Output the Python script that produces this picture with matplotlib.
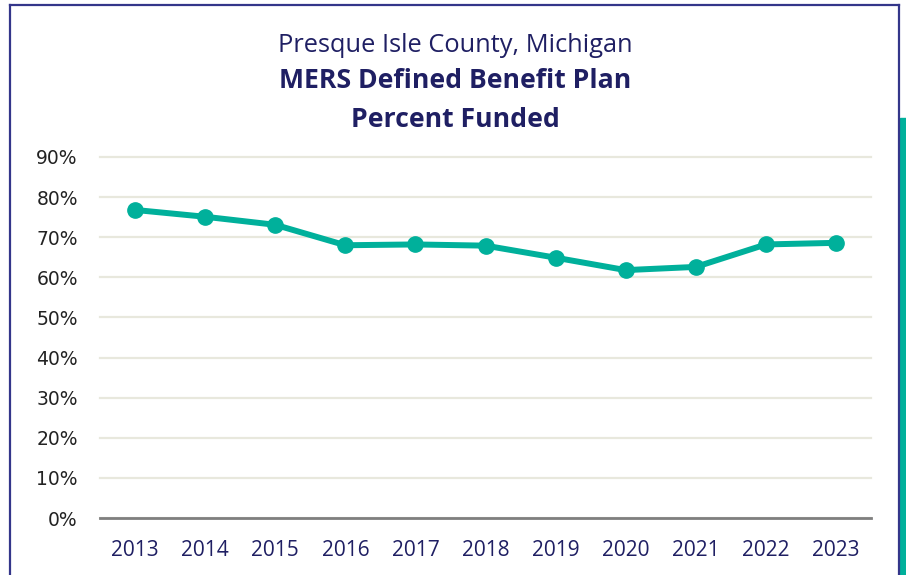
import matplotlib
matplotlib.use("Agg")
import matplotlib.pyplot as plt
from matplotlib.patches import Rectangle
from matplotlib.lines import Line2D

years = ["2013", "2014", "2015", "2016", "2017", "2018", "2019", "2020", "2021", "2022", "2023"]
funded = [76.8, 75.1, 73.1, 68.0, 68.2, 67.9, 64.9, 61.8, 62.6, 68.2, 68.6]
yticks = [0, 10, 20, 30, 40, 50, 60, 70, 80, 90]
ytick_labels = [f"{v}%" for v in yticks]

title1 = "Presque Isle County, Michigan"
title2 = "MERS Defined Benefit Plan"
title3 = "Percent Funded"

narrow = "Open Sans"
navy = "#1f1f63"
teal = "#00b09b"

fig = plt.figure(figsize=(9.06, 5.75), dpi=100)
W, H = 906, 575

# frame
fig.add_artist(Line2D([10/W, 10/W], [0, 1 - 4.5/H], color="#34368a", lw=1.6, transform=fig.transFigure))
fig.add_artist(Line2D([10/W, 899/W], [1 - 4.5/H, 1 - 4.5/H], color="#34368a", lw=1.6, transform=fig.transFigure))
fig.add_artist(Line2D([899/W, 899/W], [0, 1 - 4.5/H], color="#34368a", lw=1.6, transform=fig.transFigure))
fig.add_artist(Rectangle((900/W, 0), 6/W, 1 - 118/H, color=teal, transform=fig.transFigure))

ax = fig.add_axes([100/W, 1 - 518/H, 771/W, (518 - 157)/H])
x = list(range(len(years)))
ax.plot(x, funded, color=teal, lw=4.3, marker="o", markersize=11, solid_capstyle="round", zorder=3)
ax.set_xlim(-0.5, len(years) - 0.5)
ax.set_ylim(0, 90)
ax.set_yticks(yticks)
ax.set_yticklabels(ytick_labels, fontsize=13.5, color="#222222", family="DejaVu Sans")
ax.set_xticks(x)
ax.set_xticklabels(years, fontsize=15, color=navy, family=narrow)
ax.tick_params(axis="both", length=0)
ax.tick_params(axis="y", pad=16)
ax.tick_params(axis="x", pad=16)
ax.grid(axis="y", color="#e8e8dd", lw=1.6)
for gl in ax.get_ygridlines():
    gl.set_clip_on(False)
ax.set_axisbelow(True)
for s in ["top", "right", "left"]:
    ax.spines[s].set_visible(False)
ax.spines["bottom"].set_color("#7f7f7f")
ax.spines["bottom"].set_linewidth(2)
ax.spines["bottom"].set_zorder(2)

cx = 455 / W
fig.text(cx, 1 - 45/H, title1, ha="center", va="center", fontsize=18.3, color=navy, family=narrow)
fig.text(cx, 1 - 81/H, title2, ha="center", va="center", fontsize=19.2, color=navy, family=narrow, weight="bold")
fig.text(cx, 1 - 120/H, title3, ha="center", va="center", fontsize=19.2, color=navy, family=narrow, weight="bold")

fig.savefig("out.png", dpi=100)
